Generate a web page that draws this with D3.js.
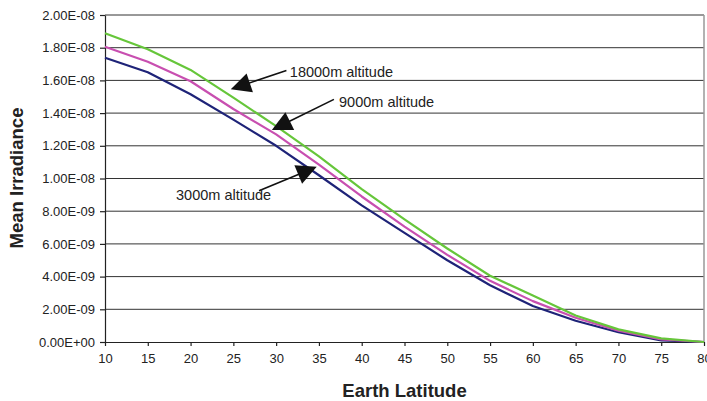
<!DOCTYPE html>
<html>
<head>
<meta charset="utf-8">
<script src="https://cdn.jsdelivr.net/npm/d3@7"></script>
<style>
  body { margin: 0; background: #fff; }
  text { font-family: Arial, "Liberation Sans", sans-serif; fill: #222; }
</style>
</head>
<body>
<svg id="chart" width="707" height="401"></svg>
<script>
// values
var latitudes = [10, 15, 20, 25, 30, 35, 40, 45, 50, 55, 60, 65, 70, 75, 80];
var alt18000 = [1.888e-8, 1.79e-8, 1.664e-8, 1.495e-8, 1.32e-8, 1.135e-8, 9.35e-9, 7.5e-9, 5.72e-9, 4.05e-9, 2.85e-9, 1.62e-9, 7.7e-10, 2.2e-10, 0];
var alt9000  = [1.806e-8, 1.714e-8, 1.595e-8, 1.425e-8, 1.27e-8, 1.085e-8, 8.9e-9, 7.06e-9, 5.33e-9, 3.74e-9, 2.5e-9, 1.48e-9, 6.9e-10, 1.6e-10, 0];
var alt3000  = [1.739e-8, 1.65e-8, 1.515e-8, 1.36e-8, 1.2e-8, 1.02e-8, 8.36e-9, 6.67e-9, 5.0e-9, 3.47e-9, 2.2e-9, 1.3e-9, 6.0e-10, 1.0e-10, 0];
var seriesNames = ['3000m altitude', '9000m altitude', '18000m altitude'];
var yTickValues = [0, 2e-9, 4e-9, 6e-9, 8e-9, 1e-8, 1.2e-8, 1.4e-8, 1.6e-8, 1.8e-8, 2e-8];
var yTickLabels = ['0.00E+00', '2.00E-09', '4.00E-09', '6.00E-09', '8.00E-09', '1.00E-08',
                   '1.20E-08', '1.40E-08', '1.60E-08', '1.80E-08', '2.00E-08'];
var xTickValues = latitudes;

// callouts: text anchor, arrow tail and arrow tip, in data units
var callouts = [
  {label: '18000m altitude', tx: 31.6, ty: 1.65e-8, ax: 31.2, ay: 1.66e-8, bx: 24.7, by: 1.546e-8},
  {label: '9000m altitude',  tx: 37.35, ty: 1.47e-8, ax: 36.75, ay: 1.484e-8, bx: 29.5, by: 1.297e-8},
  {label: '3000m altitude',  tx: 18.3, ty: 9.0e-9, ax: 28.0, ay: 9.25e-9, bx: 34.74, by: 1.072e-8}
];

var
  margin = {top: 15, right: 3, bottom: 59, left: 105},
  W = 707, H = 401,
  width = W - margin.left - margin.right,
  height = H - margin.top - margin.bottom,
  colors = {'3000m altitude': '#1e2378', '9000m altitude': '#c84fb0', '18000m altitude': '#66c63a'};

var data = [
  {id: '3000m altitude', values: latitudes.map((d, i) => ({lat: d, v: alt3000[i]}))},
  {id: '9000m altitude', values: latitudes.map((d, i) => ({lat: d, v: alt9000[i]}))},
  {id: '18000m altitude', values: latitudes.map((d, i) => ({lat: d, v: alt18000[i]}))}
];

var svg = d3.select('#chart');
var g = svg.append('g').attr('transform', 'translate(' + margin.left + ',' + margin.top + ')');

var xScale = d3.scaleLinear().domain([10, 80]).range([0, width]);
var yScale = d3.scaleLinear().domain([0, 2e-8]).range([height, 0]);

// gridlines
g.append('g').attr('class', 'grid')
  .selectAll('line')
  .data(yTickValues.slice(1))
  .enter().append('line')
  .attr('x1', 0).attr('x2', width)
  .attr('y1', d => yScale(d)).attr('y2', d => yScale(d))
  .style('stroke', '#333').style('stroke-width', 1);

// right border of plot area
g.append('line')
  .attr('x1', width).attr('x2', width)
  .attr('y1', 0).attr('y2', height)
  .style('stroke', '#999').style('stroke-width', 1.5);

var yAxis = d3.axisLeft(yScale)
  .tickValues(yTickValues)
  .tickSizeInner(5).tickSizeOuter(0)
  .tickPadding(5)
  .tickFormat((d, i) => yTickLabels[i]);

var xAxis = d3.axisBottom(xScale)
  .tickValues(xTickValues)
  .tickSizeInner(4).tickSizeOuter(0)
  .tickPadding(8)
  .tickFormat(d3.format('d'));

g.append('g')
  .attr('class', 'axis axis--y')
  .call(yAxis);

g.append('g')
  .attr('class', 'axis axis--x')
  .attr('transform', 'translate(0,' + height + ')')
  .call(xAxis);

g.selectAll('.axis path, .axis line').style('stroke', '#222').style('stroke-width', 1.2);
g.selectAll('.axis text').style('font-size', '13px').style('fill', '#222');

// series
var line = d3.line().x(d => xScale(d.lat)).y(d => yScale(d.v));

g.selectAll('.series')
  .data(data)
  .enter().append('path')
  .attr('class', d => 'series ' + d.id)
  .attr('d', d => line(d.values))
  .style('fill', 'none')
  .style('stroke', d => colors[d.id])
  .style('stroke-width', 2.2)
  .style('stroke-linejoin', 'round');

// callouts with big filled arrowheads
var headLen = 20, headHalf = 10;
var calls = g.selectAll('.callout').data(callouts).enter().append('g').attr('class', 'callout');

calls.each(function(c) {
  var sel = d3.select(this),
    x1 = xScale(c.ax), y1 = yScale(c.ay),
    x2 = xScale(c.bx), y2 = yScale(c.by),
    dx = x2 - x1, dy = y2 - y1,
    len = Math.sqrt(dx * dx + dy * dy),
    ux = dx / len, uy = dy / len,
    bx = x2 - ux * headLen, by = y2 - uy * headLen;
  sel.append('line')
    .attr('x1', x1).attr('y1', y1)
    .attr('x2', bx + ux * 2).attr('y2', by + uy * 2)
    .style('stroke', '#111').style('stroke-width', 1.6);
  sel.append('path')
    .attr('d', 'M' + x2 + ',' + y2 +
      'L' + (bx - uy * headHalf) + ',' + (by + ux * headHalf) +
      'L' + (bx + uy * headHalf) + ',' + (by - ux * headHalf) + 'Z')
    .style('fill', '#111');
  sel.append('text')
    .attr('x', xScale(c.tx))
    .attr('y', yScale(c.ty))
    .attr('dy', '0.35em')
    .style('font-size', '14.5px')
    .text(c.label);
});

// axis titles
svg.append('text')
  .attr('transform', 'translate(17,178) rotate(-90)')
  .attr('text-anchor', 'middle')
  .attr('dy', '0.35em')
  .style('font-size', '18.5px')
  .style('font-weight', 'bold')
  .text('Mean Irradiance');

svg.append('text')
  .attr('x', 404.5)
  .attr('y', 397)
  .attr('text-anchor', 'middle')
  .style('font-size', '18.5px')
  .style('font-weight', 'bold')
  .text('Earth Latitude');
</script>
</body>
</html>
